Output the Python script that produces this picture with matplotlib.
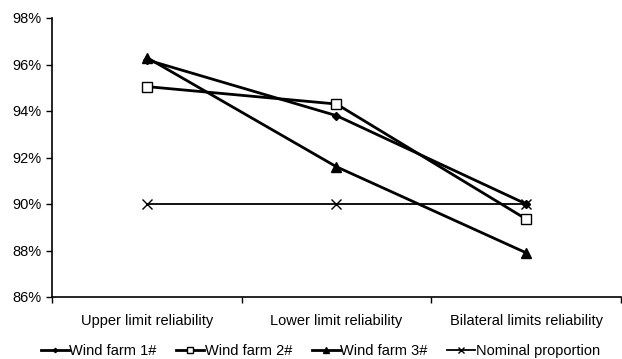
import matplotlib.pyplot as plt
from matplotlib.ticker import FixedLocator, PercentFormatter

plt.rcParams['font.family'] = ['Liberation Sans', 'DejaVu Sans']

categories = ['Upper limit reliability', 'Lower limit reliability', 'Bilateral limits reliability']
farm1 = [96.2, 93.8, 90.0]
farm2 = [95.05, 94.3, 89.35]
farm3 = [96.3, 91.6, 87.9]
nominal = [90.0, 90.0, 90.0]

fig = plt.figure(figsize=(6.22, 3.59), dpi=100)
ax = fig.add_axes([52 / 622, 1 - 297 / 359, 569 / 622, 279 / 359])

x = range(len(categories))
ax.plot(x, farm1, color='black', lw=2, marker='D', ms=4, label='Wind farm 1#')
ax.plot(x, farm2, color='black', lw=2, marker='s', ms=7, mfc='white', mew=1.0,
        label='Wind farm 2#')
ax.plot(x, farm3, color='black', lw=2, marker='^', ms=7, label='Wind farm 3#')
ax.plot(x, nominal, color='black', lw=1.3, marker='x', ms=7, mew=1.0,
        label='Nominal proportion')

ax.set_xlim(-0.5, 2.5)
ax.set_ylim(86, 98)
ax.set_yticks([86, 88, 90, 92, 94, 96, 98])
ax.yaxis.set_major_formatter(PercentFormatter(decimals=0))
ax.set_xticks(list(x))
ax.set_xticklabels(categories)
ax.xaxis.set_minor_locator(FixedLocator([-0.5, 0.5, 1.5, 2.5]))
ax.tick_params(axis='x', which='major', length=0, pad=12, labelsize=10.5)
ax.tick_params(axis='x', which='minor', length=4, width=1, direction='out')
ax.tick_params(axis='y', length=4, width=1, direction='out', labelsize=10.5)

for side in ('top', 'right'):
    ax.spines[side].set_visible(False)
for side in ('left', 'bottom'):
    ax.spines[side].set_linewidth(1.2)

fig.legend(loc='center', bbox_to_anchor=(0.515, 1 - 351 / 359), ncol=4, frameon=False,
           fontsize=10.5, handlelength=1.9, handletextpad=0.05, columnspacing=1.35,
           markerscale=0.55, borderpad=0)

fig.savefig('out.png', dpi=100)
